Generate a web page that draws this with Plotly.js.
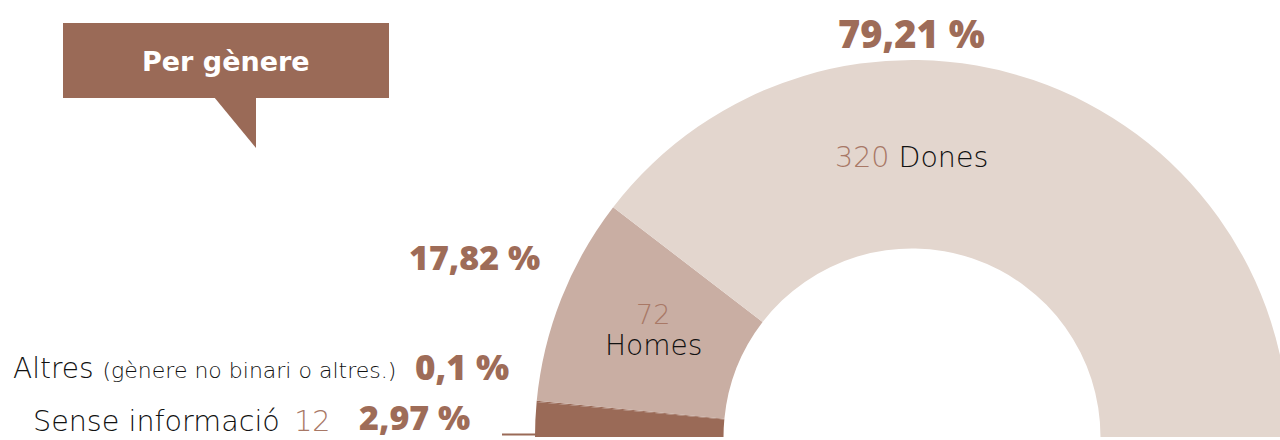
<!DOCTYPE html>
<html>
<head>
<meta charset="utf-8">
<script src="https://cdn.plot.ly/plotly-3.0.1.min.js"></script>
<style>
  html, body { margin: 0; padding: 0; background: #fff; }
  #wrap { width: 1280px; height: 440px; overflow: hidden; position: relative; }
  #chart { width: 1300px; height: 874px; position: absolute; left: 0; top: 0; }
</style>
</head>
<body>
<div id="wrap"><div id="chart"></div></div>
<script>
// ---- data ----
const categories = ["Sense informació", "Altres", "Homes", "Dones"];
const counts = [12, null, 72, 320];
const pctValues = [2.97, 0.1, 17.82, 79.21];
const altresNote = "(gènere no binari o altres.)";
const chartTitle = "Per gènere";

// ---- styles ----
const DARK = "#9A6A57", MID = "#C9AEA3", LIGHT = "#E3D6CE";
const PCT = "#9E6C58", NUM = "#A87866", INK = "#111111";
const W = 1300, H = 874;
const X = p => p / W, Y = p => 1 - p / H;
const BOLDFONT = "Open Sans, Lato, sans-serif";
const TEXTFONT = "DejaVu Sans, Open Sans, sans-serif";

const pctLabels = pctValues.map(v => String(v).replace(".", ",") + " %");
const total = pctValues.reduce((a, b) => a + b, 0);

const cx = 912, cy = 437, R = 377;

const trace = {
  type: "pie",
  values: pctValues.concat([total]),
  labels: categories.concat(["_"]),
  sort: false,
  direction: "clockwise",
  rotation: -90,
  hole: 0.5,
  textinfo: "none",
  hoverinfo: "skip",
  showlegend: false,
  marker: { colors: [DARK, DARK, MID, LIGHT, "rgba(0,0,0,0)"], line: { width: 0 } },
  domain: { x: [X(cx - R), X(cx + R)], y: [Y(cy + R), Y(cy - R)] }
};

const bold = (txt, x, y, size, xa) => ({
  text: txt, x: X(x), y: Y(y), xref: "paper", yref: "paper", showarrow: false,
  xanchor: xa || "center", yanchor: "middle",
  font: { family: BOLDFONT, size: size, color: PCT, weight: 800 }
});
const light = (txt, x, y, size, xa, color) => ({
  text: txt, x: X(x), y: Y(y), xref: "paper", yref: "paper", showarrow: false,
  xanchor: xa || "center", yanchor: "middle",
  font: { family: TEXTFONT, size: size, color: color || INK, weight: 300 }
});
const span = (t, c, s) => `<span style="color:${c};${s ? "font-size:" + s + "px" : ""}">${t}</span>`;

const annotations = [
  bold(pctLabels[3], 911, 33, 38),
  light(span(counts[3], NUM) + " " + categories[3], 911, 158, 28.5),
  bold(pctLabels[2], 474, 257, 34),
  light(String(counts[2]), 653, 314, 27, "center", NUM),
  light(categories[2], 653, 346, 28),
  light(categories[1] + " " + span(altresNote, INK, 22), 398, 368, 28, "right"),
  bold(pctLabels[1], 462, 366, 35),
  light(categories[0] + "\u2002" + span(counts[0], NUM), 333, 421, 28.6, "right"),
  bold(pctLabels[0], 415, 417, 34),
  { text: "<b>" + chartTitle + "</b>", x: X(226), y: Y(62), xref: "paper", yref: "paper",
    showarrow: false, xanchor: "center", yanchor: "middle",
    font: { family: TEXTFONT, size: 27, color: "#ffffff", weight: 700 } }
];

const shapes = [
  { type: "rect", xref: "paper", yref: "paper", x0: X(63), x1: X(389), y0: Y(98), y1: Y(23),
    fillcolor: DARK, line: { width: 0 }, layer: "below" },
  { type: "path", xref: "paper", yref: "paper",
    path: `M ${X(214)},${Y(97)} L ${X(256)},${Y(97)} L ${X(256)},${Y(148)} Z`,
    fillcolor: DARK, line: { width: 0 }, layer: "below" },
  { type: "line", xref: "paper", yref: "paper", x0: X(502), x1: X(537), y0: Y(434.5), y1: Y(434.5),
    line: { color: DARK, width: 2 } }
];

const layout = {
  width: W, height: H,
  margin: { l: 0, r: 0, t: 0, b: 0 },
  paper_bgcolor: "#ffffff",
  showlegend: false,
  annotations: annotations,
  shapes: shapes
};

Plotly.newPlot("chart", [trace], layout, { displayModeBar: false, staticPlot: true });
</script>
</body>
</html>
